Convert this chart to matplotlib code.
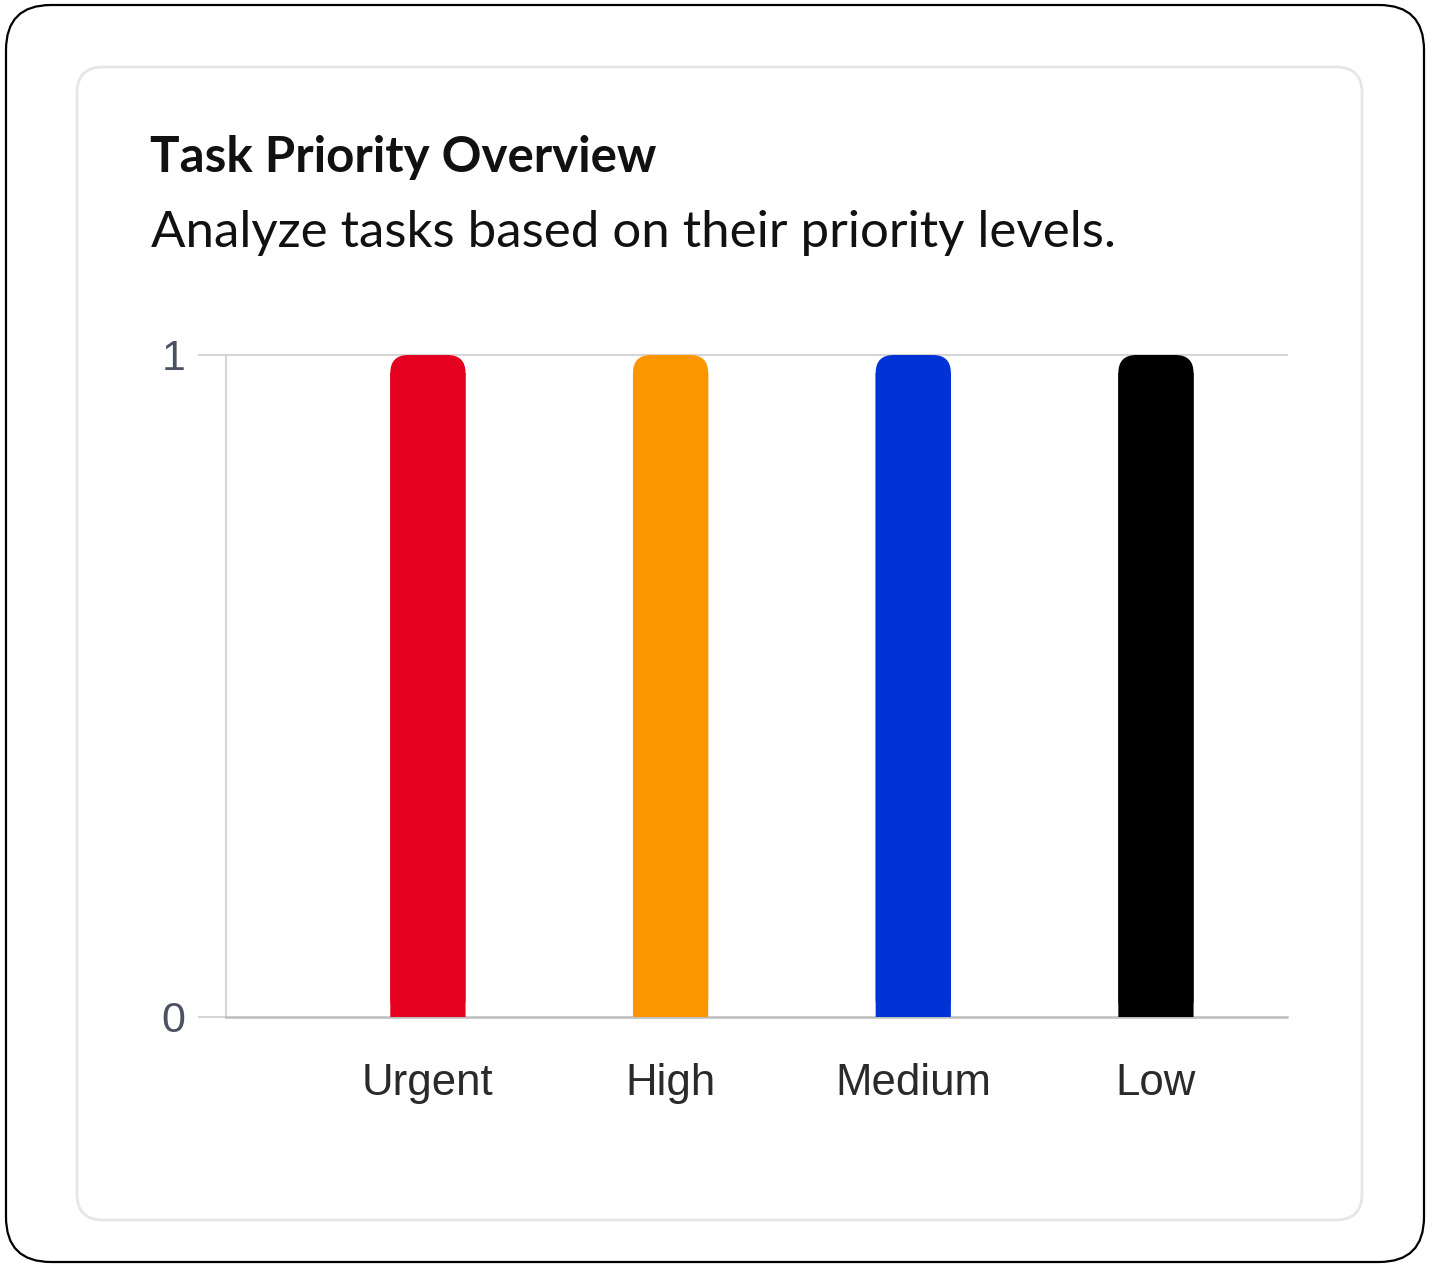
import matplotlib.pyplot as plt
from matplotlib.patches import FancyBboxPatch, Rectangle

# data
categories = ["Urgent", "High", "Medium", "Low"]
task_counts = [1, 1, 1, 1]
bar_colors = ["#e60020", "#fb9600", "#0033d6", "#000000"]

W, H = 1440, 1276
fig = plt.figure(figsize=(W / 100, H / 100), dpi=100)
fig.patch.set_facecolor("white")

# outer frame and inner card (figure coords, given in pixels)
def frame(x0, y0, x1, y1, r, **kw):
    p = FancyBboxPatch((x0 / W, 1 - y1 / H), (x1 - x0) / W, (y1 - y0) / H,
                       boxstyle=f"round,pad=0,rounding_size={r / W}",
                       mutation_aspect=W / H, transform=fig.transFigure, zorder=-2, **kw)
    fig.patches.append(p)

frame(6, 5, 1424, 1262, 45, facecolor="white", edgecolor="black", linewidth=1.6)
frame(77, 67, 1362, 1220, 26, facecolor="white", edgecolor="#e6e6e6", linewidth=2)

fig.text(150 / W, 1 - 157 / H, "Task Priority Overview", fontsize=35.5, fontweight="bold",
         family="Lato", color="#111111", va="center", ha="left")
fig.text(151 / W, 1 - 233 / H, "Analyze tasks based on their priority levels.", fontsize=36.7,
         family="Lato", color="#111111", va="center", ha="left")

# axes: left 226, right 1287, top 355, bottom 1017 (pixels)
ax = fig.add_axes([226 / W, 1 - 1017 / H, (1287 - 226) / W, (1017 - 355) / H])
ax.patch.set_alpha(0)
x = list(range(len(categories)))
bw = 0.31
bars = ax.bar(x, task_counts, width=bw, color=bar_colors)
ax.set_xlim(-0.832, 3.54)
ax.set_ylim(0, 1)

# rounded tops
px_x = (1287 - 226) / (ax.get_xlim()[1] - ax.get_xlim()[0])
px_y = (1017 - 355) / 1.0
aspect = px_x / px_y
r = 18 / px_x
ry = 18 / px_y
for b, c in zip(bars, bar_colors):
    bx, by, bwid, bh = b.get_x(), b.get_y(), b.get_width(), b.get_height()
    b.set_visible(False)
    ax.add_patch(FancyBboxPatch((bx, by), bwid, bh, boxstyle=f"round,pad=0,rounding_size={r}",
                                mutation_aspect=aspect, facecolor=c, edgecolor="none",
                                zorder=3, snap=False))
    ax.add_patch(Rectangle((bx, by), bwid, bh - ry, facecolor=c, edgecolor="none",
                           zorder=3, snap=False))

ax.set_yticks([0, 1])
ax.set_yticklabels(["0", "1"])
ax.set_xticks(x)
ax.set_xticklabels(categories)
for s in ["top", "right"]:
    ax.spines[s].set_visible(False)
ax.spines["left"].set_color("#d6d6d6")
ax.spines["left"].set_linewidth(1.5)
ax.spines["bottom"].set_color("#bdbdbd")
ax.spines["bottom"].set_linewidth(1.8)
ax.axhline(1, color="#d6d6d6", linewidth=1.5, zorder=1, clip_on=False)
ax.tick_params(axis="y", length=20, width=1.5, color="#d6d6d6", pad=9,
               labelsize=31, labelcolor="#4a5262")
ax.tick_params(axis="x", length=0, pad=33, labelsize=31.5, labelcolor="#2a2a2a")
for t in ax.get_xticklabels() + ax.get_yticklabels():
    t.set_family("Liberation Sans")

fig.savefig("out.png", dpi=100, facecolor="white")
